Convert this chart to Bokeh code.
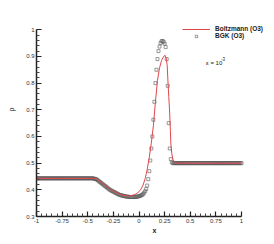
from bokeh.plotting import figure
from bokeh.models import FixedTicker, Legend, LegendItem, Label, Range1d, CustomJSTickFormatter
from bokeh.embed import file_html
from bokeh.resources import INLINE

x_ticks = [-1.0, -0.75, -0.5, -0.25, 0.0, 0.25, 0.5, 0.75, 1.0]
x_tick_labels = ["-1", "-0.75", "-0.5", "-0.25", "0", "0.25", "0.5", "0.75", "1"]
x_minor = [-0.95, -0.9, -0.85, -0.8, -0.7, -0.65, -0.6, -0.55, -0.45, -0.4, -0.35, -0.3,
           -0.2, -0.15, -0.1, -0.05, 0.05, 0.1, 0.15, 0.2, 0.3, 0.35, 0.4, 0.45,
           0.55, 0.6, 0.65, 0.7, 0.8, 0.85, 0.9, 0.95]
y_ticks = [0.3, 0.4, 0.5, 0.6, 0.7, 0.8, 0.9, 1.0]
y_tick_labels = ["0.3", "0.4", "0.5", "0.6", "0.7", "0.8", "0.9", "1"]
y_minor = [0.32, 0.34, 0.36, 0.38, 0.42, 0.44, 0.46, 0.48, 0.52, 0.54, 0.56, 0.58,
           0.62, 0.64, 0.66, 0.68, 0.72, 0.74, 0.76, 0.78, 0.82, 0.84, 0.86, 0.88,
           0.92, 0.94, 0.96, 0.98]

# Boltzmann (O3) - red line
boltz_x = [-1.0, -0.45, -0.42, -0.4, -0.35, -0.3, -0.25, -0.2, -0.15, -0.1,
           -0.05, -0.02, 0.0, 0.02, 0.04, 0.06, 0.08, 0.10, 0.12, 0.14,
           0.16, 0.18, 0.20, 0.22, 0.24, 0.255, 0.267, 0.275, 0.283, 0.29,
           0.296, 0.30, 0.306, 0.31, 0.32, 0.33, 0.345, 0.37, 0.40, 1.0]
boltz_rho = [0.443, 0.443, 0.441, 0.437, 0.423, 0.408, 0.395, 0.385, 0.379, 0.377,
             0.381, 0.387, 0.393, 0.403, 0.418, 0.442, 0.477, 0.522, 0.575, 0.64,
             0.73, 0.81, 0.857, 0.885, 0.900, 0.904, 0.89, 0.865, 0.80, 0.75,
             0.71, 0.68, 0.623, 0.575, 0.535, 0.515, 0.505, 0.500, 0.500, 0.500]

# BGK (O3) - square symbols
bgk_x = [-1.00, -0.99, -0.98, -0.97, -0.96, -0.95, -0.94, -0.93, -0.92, -0.91,
         -0.90, -0.89, -0.88, -0.87, -0.86, -0.85, -0.84, -0.83, -0.82, -0.81,
         -0.80, -0.79, -0.78, -0.77, -0.76, -0.75, -0.74, -0.73, -0.72, -0.71,
         -0.70, -0.69, -0.68, -0.67, -0.66, -0.65, -0.64, -0.63, -0.62, -0.61,
         -0.60, -0.59, -0.58, -0.57, -0.56, -0.55, -0.54, -0.53, -0.52, -0.51,
         -0.50, -0.49, -0.48, -0.47, -0.46, -0.45, -0.44, -0.43, -0.42, -0.41,
         -0.40, -0.39, -0.38, -0.37, -0.36, -0.35, -0.34, -0.33, -0.32, -0.31,
         -0.30, -0.29, -0.28, -0.27, -0.26, -0.25, -0.24, -0.23, -0.22, -0.21,
         -0.20, -0.19, -0.18, -0.17, -0.16, -0.15, -0.14, -0.13, -0.12, -0.11,
         -0.10, -0.09, -0.08, -0.07, -0.06, -0.05, -0.04, -0.03, -0.02, -0.01,
         0.00, 0.01, 0.02, 0.03, 0.04, 0.05, 0.06, 0.07, 0.08, 0.09,
         0.10, 0.11, 0.12, 0.13, 0.14, 0.15, 0.16, 0.17, 0.18, 0.19,
         0.20, 0.21, 0.22, 0.23, 0.24, 0.25, 0.26, 0.27, 0.28, 0.29,
         0.30, 0.31, 0.32, 0.33, 0.34, 0.35, 0.36, 0.37, 0.38, 0.39,
         0.40, 0.41, 0.42, 0.43, 0.44, 0.45, 0.46, 0.47, 0.48, 0.49,
         0.50, 0.51, 0.52, 0.53, 0.54, 0.55, 0.56, 0.57, 0.58, 0.59,
         0.60, 0.61, 0.62, 0.63, 0.64, 0.65, 0.66, 0.67, 0.68, 0.69,
         0.70, 0.71, 0.72, 0.73, 0.74, 0.75, 0.76, 0.77, 0.78, 0.79,
         0.80, 0.81, 0.82, 0.83, 0.84, 0.85, 0.86, 0.87, 0.88, 0.89,
         0.90, 0.91, 0.92, 0.93, 0.94, 0.95, 0.96, 0.97, 0.98, 0.99,
         1.00]
bgk_rho = [0.443, 0.443, 0.443, 0.443, 0.443, 0.443, 0.443, 0.443, 0.443, 0.443,
           0.443, 0.443, 0.443, 0.443, 0.443, 0.443, 0.443, 0.443, 0.443, 0.443,
           0.443, 0.443, 0.443, 0.443, 0.443, 0.443, 0.443, 0.443, 0.443, 0.443,
           0.443, 0.443, 0.443, 0.443, 0.443, 0.443, 0.443, 0.443, 0.443, 0.443,
           0.443, 0.443, 0.443, 0.443, 0.443, 0.443, 0.443, 0.443, 0.443, 0.443,
           0.443, 0.443, 0.443, 0.443, 0.443, 0.443, 0.442, 0.441, 0.440, 0.438,
           0.435, 0.432, 0.429, 0.426, 0.423, 0.420, 0.417, 0.414, 0.411, 0.408,
           0.405, 0.402, 0.399, 0.397, 0.395, 0.393, 0.391, 0.389, 0.387, 0.385,
           0.383, 0.381, 0.380, 0.379, 0.378, 0.377, 0.376, 0.375, 0.375, 0.374,
           0.374, 0.373, 0.373, 0.373, 0.373, 0.373, 0.373, 0.374, 0.374, 0.375,
           0.376, 0.377, 0.379, 0.381, 0.384, 0.389, 0.395, 0.403, 0.416, 0.440,
           0.470, 0.510, 0.555, 0.600, 0.663, 0.730, 0.800, 0.850, 0.890, 0.920,
           0.937, 0.950, 0.957, 0.958, 0.955, 0.948, 0.935, 0.890, 0.790, 0.650,
           0.555, 0.515, 0.503, 0.500, 0.500, 0.500, 0.500, 0.500, 0.500, 0.500,
           0.500, 0.500, 0.500, 0.500, 0.500, 0.500, 0.500, 0.500, 0.500, 0.500,
           0.500, 0.500, 0.500, 0.500, 0.500, 0.500, 0.500, 0.500, 0.500, 0.500,
           0.500, 0.500, 0.500, 0.500, 0.500, 0.500, 0.500, 0.500, 0.500, 0.500,
           0.500, 0.500, 0.500, 0.500, 0.500, 0.500, 0.500, 0.500, 0.500, 0.500,
           0.500, 0.500, 0.500, 0.500, 0.500, 0.500, 0.500, 0.500, 0.500, 0.500,
           0.500, 0.500, 0.500, 0.500, 0.500, 0.500, 0.500, 0.500, 0.500, 0.500,
           0.500]

FONT = "Liberation Sans"

# Ranges extend past the axis spans so the legend (which sits beyond x=1 and at y=1)
# is not clipped; the axes themselves are bounded to the data spans.
p = figure(width=274, height=244, x_range=Range1d(-1, 1.302), y_range=Range1d(0.3, 1.1022),
           output_backend="svg", toolbar_location=None,
           min_border_left=36, min_border_right=2, min_border_top=2, min_border_bottom=28)
p.outline_line_color = None
p.grid.visible = False
p.background_fill_color = "white"
p.border_fill_color = "white"

fmt_js = """
let best = -1;
for (let i = 0; i < tvals.length; i++) { if (Math.abs(tvals[i] - tick) < 1e-9) { best = i; } }
return best >= 0 ? tlabels[best] : "";
"""
p.xaxis.ticker = FixedTicker(ticks=x_ticks, minor_ticks=x_minor)
p.xaxis.formatter = CustomJSTickFormatter(args=dict(tvals=x_ticks, tlabels=x_tick_labels), code=fmt_js)
p.xaxis.bounds = (-1, 1)
p.yaxis.ticker = FixedTicker(ticks=y_ticks, minor_ticks=y_minor)
p.yaxis.formatter = CustomJSTickFormatter(args=dict(tvals=y_ticks, tlabels=y_tick_labels), code=fmt_js)
p.yaxis.bounds = (0.3, 1.0)

for ax in (p.xaxis[0], p.yaxis[0]):
    ax.axis_line_width = 1.5
    ax.axis_line_color = "#222222"
    ax.major_tick_in = 5
    ax.major_tick_out = 0
    ax.minor_tick_in = 3
    ax.minor_tick_out = 0
    ax.major_tick_line_width = 1.2
    ax.major_tick_line_color = "#222222"
    ax.minor_tick_line_color = "#444444"
    ax.major_label_text_font = FONT
    ax.major_label_text_font_size = "6px"
    ax.major_label_text_color = "#333333"
    ax.major_label_standoff = 2
    ax.axis_label_text_font = FONT
    ax.axis_label_text_color = "#222222"

p.xaxis.axis_label = "x"
p.xaxis.axis_label_text_font_style = "bold"
p.xaxis.axis_label_text_font_size = "7px"
p.xaxis.axis_label_standoff = 1
p.yaxis.axis_label = "ρ"
p.yaxis.axis_label_text_font_style = "normal"
p.yaxis.axis_label_text_font_size = "7px"
p.yaxis.axis_label_standoff = 8

sq = p.scatter(bgk_x, bgk_rho, marker="square", size=3, fill_color=None,
               line_color="#555555", line_width=0.6)
ln = p.line(boltz_x, boltz_rho, line_color="#e0474c", line_width=1)

legend = Legend(items=[LegendItem(label="Boltzmann (O3)", renderers=[ln]),
                       LegendItem(label="BGK (O3)", renderers=[sq])],
                location=(146, 177), orientation="vertical",
                glyph_width=28, glyph_height=6, label_height=6, label_standoff=5,
                padding=0, margin=0, spacing=0,
                border_line_color=None, background_fill_alpha=0,
                label_text_font=FONT, label_text_font_size="6.5px",
                label_text_font_style="bold", label_text_color="#222222")
p.add_layout(legend)

p.add_layout(Label(x=0.654, y=0.875, text="ε = 10", text_font=FONT, text_font_size="6px",
                   text_color="#222222", text_baseline="middle", text_align="left"))
p.add_layout(Label(x=0.80, y=0.889, text="-3", text_font=FONT, text_font_size="4.5px",
                   text_color="#222222", text_baseline="middle", text_align="left"))

open("out.html", "w").write(file_html(p, INLINE))
